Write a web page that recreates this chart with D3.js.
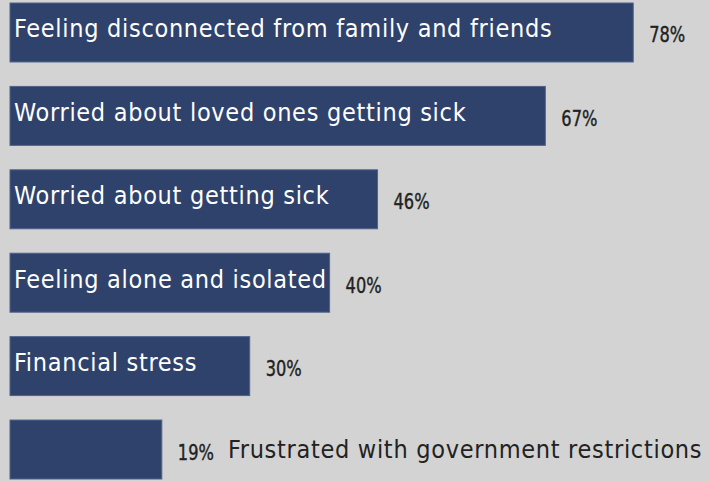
<!DOCTYPE html>
<html>
<head>
<meta charset="utf-8">
<script src="https://cdn.jsdelivr.net/npm/d3@7"></script>
<style>
  html, body { margin: 0; padding: 0; background: #d3d3d3; }
  svg { display: block; }
</style>
</head>
<body>
<div id="chart"></div>
<script>
const width = 710;
const height = 481;

const categories = [
    "Feeling disconnected from family and friends",
    "Worried about loved ones getting sick",
    "Worried about getting sick",
    "Feeling alone and isolated",
    "Financial stress",
    "Frustrated with government restrictions"
];
const values = [78, 67, 46, 40, 30, 19];
const valueLabels = ["78%", "67%", "46%", "40%", "30%", "19%"];

const data = categories.map((c, i) => ({ category: c, value: values[i], label: valueLabels[i] }));

const svg = d3.select("#chart")
    .append("svg")
    .attr("width", width)
    .attr("height", height);

svg.append("rect")
    .attr("width", width)
    .attr("height", height)
    .attr("fill", "#d3d3d3");

const xScale = d3.scaleLinear()
    .domain([0, 100])
    .range([10, 809]);

const yScale = d3.scaleBand()
    .domain(categories)
    .range([3, 479])
    .paddingInner(0.293)
    .paddingOuter(0);

const font = "'DejaVu Sans Condensed', 'DejaVu Sans', sans-serif";
const pctSquash = 0.82;

const rows = svg.selectAll(".row")
    .data(data)
    .enter().append("g")
    .attr("class", "row")
    .attr("transform", d => `translate(0, ${yScale(d.category)})`);

rows.append("rect")
    .attr("x", xScale(0))
    .attr("y", 0)
    .attr("width", d => xScale(d.value) - xScale(0))
    .attr("height", yScale.bandwidth())
    .attr("fill", "#2f426b")
    .attr("stroke", "#51628a")
    .attr("stroke-width", 1);

// value labels, squeezed a bit to look like the narrow original face
rows.append("text")
    .attr("class", "pct")
    .attr("transform", d => `translate(${xScale(d.value) + 16}, ${yScale.bandwidth() / 2 + 10})`
        + ` scale(${pctSquash}, 1)`)
    .attr("font-family", font)
    .attr("font-size", 22)
    .attr("fill", "#222")
    .attr("stroke", "#222")
    .attr("stroke-width", 0.4)
    .text(d => d.label);

// category text: inside the bar if it fits, otherwise after the value label
rows.each(function(d) {
    const g = d3.select(this);
    const t = g.append("text")
        .attr("font-family", font)
        .attr("font-size", 25)
        .attr("letter-spacing", 0.7)
        .text(d.category);
    const len = t.node().getComputedTextLength();
    const barW = xScale(d.value) - xScale(0);
    if (len + 2 < barW) {
        t.attr("x", xScale(0) + 4)
            .attr("y", yScale.bandwidth() / 2 + 5)
            .attr("fill", "#ffffff");
    } else {
        const pw = g.select(".pct").node().getComputedTextLength() * pctSquash;
        t.attr("x", xScale(d.value) + 16 + pw + 14)
            .attr("y", yScale.bandwidth() / 2 + 8.5)
            .attr("fill", "#222");
    }
});
</script>
</body>
</html>
